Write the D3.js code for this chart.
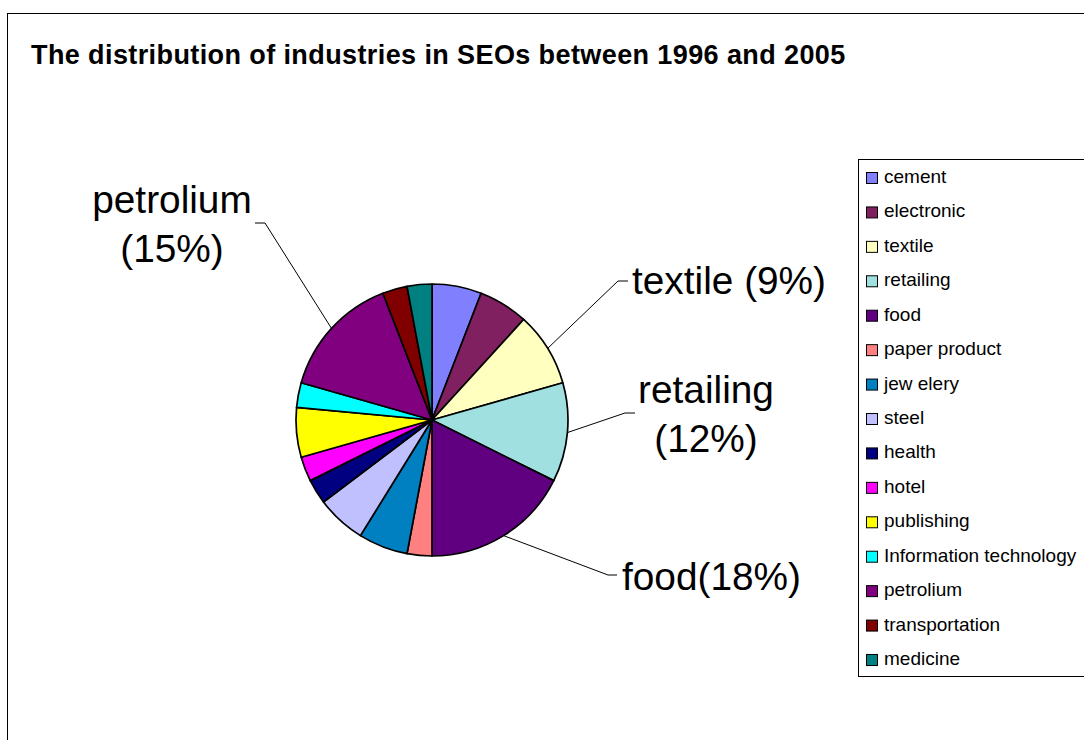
<!DOCTYPE html>
<html>
<head>
<meta charset="utf-8">
<script src="https://cdn.jsdelivr.net/npm/d3@7"></script>
<style>
  html, body { margin: 0; padding: 0; background: #fff; }
  svg { display: block; font-family: Arial, "Liberation Sans", sans-serif; }
</style>
</head>
<body>
<svg id="chart" width="1084" height="740"></svg>
<script>
// Industries, in pie order (clockwise from 12 o'clock)
const industries = ["cement", "electronic", "textile", "retailing", "food", "paper product",
  "jew elery", "steel", "health", "hotel", "publishing", "Information technology",
  "petrolium", "transportation", "medicine"];
// Number of SEOs per industry, 1996-2005
const counts = [2, 2, 3, 4, 6, 1, 2, 2, 1, 1, 2, 1, 5, 1, 1];
const fills = ["#8080FF", "#802060", "#FFFFC0", "#A0E0E0", "#600080", "#FF8080",
  "#0080C0", "#C0C0FF", "#000080", "#FF00FF", "#FFFF00", "#00FFFF",
  "#800080", "#800000", "#008080"];
const title = "The distribution of industries in SEOs between 1996 and 2005";
// Slices that carry an outside label
const labelled = ["petrolium", "textile", "retailing", "food"];

const svg = d3.select("#chart");
const W = 1084, H = 740;

// outer chart frame (runs off right / bottom)
svg.append("rect")
  .attr("x", 7.5).attr("y", 13.5).attr("width", W + 20).attr("height", H + 20)
  .attr("fill", "#fff").attr("stroke", "#000").attr("stroke-width", 1);

svg.append("text")
  .attr("x", 31).attr("y", 64)
  .attr("font-size", 27).attr("font-weight", "bold").attr("letter-spacing", 0.4)
  .attr("fill", "#000")
  .text(title);

const total = d3.sum(counts);
const data = industries.map((name, i) => ({ name, value: counts[i], color: fills[i] }));

const cx = 432, cy = 420, R = 136;
const pie = d3.pie().value(d => d.value).sort(null);
const arc = d3.arc().innerRadius(0).outerRadius(R);
const arcs = pie(data);

const g = svg.append("g").attr("transform", `translate(${cx},${cy})`);
g.selectAll("path.slice").data(arcs).join("path")
  .attr("class", "slice")
  .attr("d", arc)
  .attr("fill", d => d.data.color)
  .attr("stroke", "#000").attr("stroke-width", 1.7).attr("stroke-linejoin", "round");

// label layout: elbow point, end of the short horizontal, text anchor and lines
const labelLayout = {
  "petrolium": { elbow: [265, 223], end: [255, 223], tx: 172, ty: 213, anchor: "middle", split: true },
  "textile":   { elbow: [618, 281], end: [628, 281], tx: 632, ty: 294, anchor: "start", split: false, sep: " " },
  "retailing": { elbow: [625, 413], end: [635, 413], tx: 706, ty: 403, anchor: "middle", split: true },
  "food":      { elbow: [608, 575], end: [617, 575], tx: 622, ty: 590, anchor: "start", split: false, sep: "" }
};

const pct = v => Math.round(v / total * 100) + "%";
arcs.filter(a => labelled.includes(a.data.name)).forEach(a => {
  const L = labelLayout[a.data.name];
  const mid = (a.startAngle + a.endAngle) / 2;
  const ex = cx + R * Math.sin(mid), ey = cy - R * Math.cos(mid);
  svg.append("polyline")
    .attr("points", [[ex, ey], L.elbow, L.end].map(p => p.join(",")).join(" "))
    .attr("fill", "none").attr("stroke", "#000").attr("stroke-width", 1);
  const t = svg.append("text")
    .attr("x", L.tx).attr("y", L.ty)
    .attr("font-size", 38.8).attr("text-anchor", L.anchor).attr("fill", "#000");
  if (L.split) {
    t.append("tspan").attr("x", L.tx).attr("dy", 0).text(a.data.name);
    t.append("tspan").attr("x", L.tx).attr("dy", 49).text("(" + pct(a.data.value) + ")");
  } else {
    t.text(a.data.name + L.sep + "(" + pct(a.data.value) + ")");
  }
});

// legend box
const lg = svg.append("g");
lg.append("rect")
  .attr("x", 858.5).attr("y", 159.5).attr("width", 240).attr("height", 517)
  .attr("fill", "#fff").attr("stroke", "#000").attr("stroke-width", 1);
const ly = d3.scalePoint().domain(industries).range([172, 654]);
const items = lg.selectAll("g.item").data(data).join("g")
  .attr("class", "item")
  .attr("transform", d => `translate(866,${ly(d.name)})`);
items.append("rect")
  .attr("x", 0.5).attr("y", 0.5).attr("width", 11).attr("height", 11)
  .attr("fill", d => d.color).attr("stroke", "#000").attr("stroke-width", 1);
items.append("text")
  .attr("x", 18).attr("y", 11)
  .attr("font-size", 19).attr("fill", "#000")
  .text(d => d.name);
</script>
</body>
</html>
